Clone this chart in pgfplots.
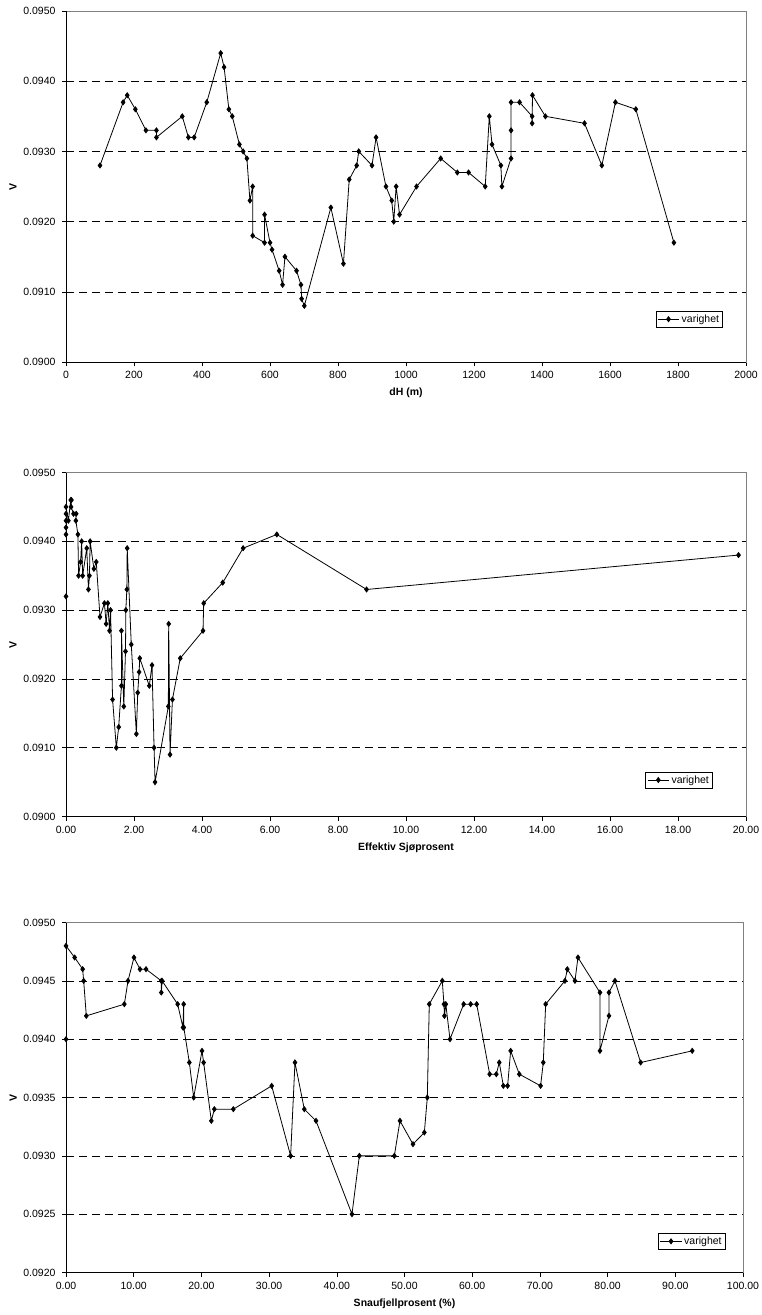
\documentclass[border=0pt]{standalone}
\usepackage{fontspec}
\setmainfont{Liberation Sans}
\usepackage{pgfplots}
\pgfplotsset{compat=1.18}
\pgfplotsset{
  excel/.style={
    scale only axis,
    anchor=south west,
    xmin=0,
    scaled y ticks=false, scaled x ticks=false,
    tick align=outside,
    xtick pos=left, ytick pos=left,
    major tick length=4pt,
    tick style={black, line width=0.6pt},
    axis line style={draw=gray, line width=0.8pt},
    ymajorgrids,
    major grid style={black, dash pattern=on 8pt off 5pt, line width=0.6pt},
    font=\fontsize{10.5}{12}\selectfont,
    ticklabel style={font=\fontsize{10.5}{12}\selectfont},
    /pgf/number format/assume math mode=true,
    yticklabel style={/pgf/number format/fixed, /pgf/number format/fixed zerofill,
      /pgf/number format/precision=4, /pgf/number format/1000 sep={}, xshift=-3pt},
    xticklabel style={yshift=-2pt},
    label style={font=\bfseries\fontsize{10.5}{12}\selectfont},
    ylabel style={at={(axis description cs:-0.078,0.5)}, anchor=center},
    xlabel style={at={(axis description cs:0.5,0)}, anchor=center, yshift=-31pt},
    legend cell align=left,
    legend image code/.code={
      \draw[mark repeat=2,mark phase=2] plot coordinates {(0cm,0cm) (0.38cm,0cm) (0.76cm,0cm)};},
    legend style={draw=black, line width=0.6pt, font=\fontsize{10.5}{12}\selectfont,
      inner sep=1.5pt, anchor=east},
    after end axis/.code={
      \draw[black, line width=0.8pt] (rel axis cs:0,1) -- (rel axis cs:0,0) -- (rel axis cs:1,0);
    },
  },
  ser/.style={black, line width=0.8pt, mark=diamond*, mark size=2.5pt, mark options={solid}},
}
\begin{document}
\begin{tikzpicture}
\useasboundingbox (0,0) rectangle (762pt,-1315pt);
% ---------- Plot 1 ----------
\begin{axis}[excel,
  at={(66pt,-362pt)}, width=680pt, height=351pt,
  xmax=2000, xtick={0,200,...,2000},
  xticklabel style={/pgf/number format/fixed, /pgf/number format/precision=0, /pgf/number format/1000 sep={}},
  ymin=0.0900, ymax=0.0950,
  ytick={0.0900,0.0910,0.0920,0.0930,0.0940,0.0950},
  xlabel={dH (m)}, ylabel={V},
  legend style={at={(axis description cs:0.966,0.122)}},
]
\addplot[ser] coordinates {
(100,0.0928) (168,0.0937) (180,0.0938) (204,0.0936) (235,0.0933) (266,0.0933) (266,0.0932)
(342,0.0935) (360,0.0932) (377,0.0932) (414,0.0937) (455,0.0944) (465,0.0942) (479,0.0936)
(489,0.0935) (510,0.0931) (521,0.0930) (532,0.0929) (541,0.0923) (549,0.0925) (549,0.0918)
(584,0.0917) (584,0.0921) (600,0.0917) (606,0.0916) (627,0.0913) (637,0.0911) (644,0.0915)
(678,0.0913) (691,0.0911) (693,0.0909) (701,0.0908) (779,0.0922) (816,0.0914) (833,0.0926)
(855,0.0928) (861,0.0930) (900,0.0928) (912,0.0932) (941,0.0925) (958,0.0923) (964,0.0920)
(971,0.0925) (981,0.0921) (1031,0.0925) (1102,0.0929) (1151,0.0927) (1184,0.0927)
(1233,0.0925) (1245,0.0935) (1253,0.0931) (1279,0.0928) (1282,0.0925) (1309,0.0929)
(1309,0.0933) (1309,0.0937) (1334,0.0937) (1371,0.0935) (1371,0.0934) (1372,0.0938)
(1410,0.0935) (1525,0.0934) (1576,0.0928) (1616,0.0937) (1676,0.0936) (1788,0.0917)
};
\addlegendentry{varighet}
\end{axis}
% ---------- Plot 2 ----------
\begin{axis}[excel,
  at={(66pt,-816.5pt)}, width=680pt, height=344pt,
  xmax=20, xtick={0,2,...,20},
  xticklabel style={/pgf/number format/fixed, /pgf/number format/fixed zerofill, /pgf/number format/precision=2},
  ymin=0.0900, ymax=0.0950,
  ytick={0.0900,0.0910,0.0920,0.0930,0.0940,0.0950},
  xlabel={Effektiv Sjøprosent}, ylabel={V},
  legend style={at={(axis description cs:0.951,0.106)}},
]
\addplot[ser] coordinates {
(0,0.0932) (0,0.0941) (0,0.0942) (0,0.0943) (0,0.0944) (0,0.0945) (0.07,0.0943)
(0.14,0.0946) (0.16,0.0946) (0.15,0.0945) (0.22,0.0944) (0.30,0.0944) (0.29,0.0943)
(0.35,0.0941) (0.37,0.0935) (0.43,0.0937) (0.46,0.0940) (0.49,0.0935) (0.61,0.0939)
(0.66,0.0933) (0.69,0.0935) (0.71,0.0940) (0.82,0.0936) (0.89,0.0937) (1.00,0.0929)
(1.13,0.0931) (1.18,0.0928) (1.23,0.0931) (1.28,0.0927) (1.31,0.0930) (1.37,0.0917)
(1.48,0.0910) (1.55,0.0913) (1.63,0.0919) (1.63,0.0927) (1.70,0.0916) (1.75,0.0924)
(1.76,0.0930) (1.79,0.0933) (1.80,0.0939) (1.92,0.0925) (2.07,0.0912) (2.11,0.0918)
(2.15,0.0921) (2.17,0.0923) (2.45,0.0919) (2.53,0.0922) (2.59,0.0910) (2.62,0.0905)
(3.01,0.0916) (3.02,0.0928) (3.06,0.0909) (3.13,0.0917) (3.36,0.0923) (4.03,0.0927)
(4.05,0.0931) (4.61,0.0934) (5.21,0.0939) (6.20,0.0941) (8.84,0.0933) (19.78,0.0938)
};
\addlegendentry{varighet}
\end{axis}
% ---------- Plot 3 ----------
\begin{axis}[excel,
  at={(66pt,-1272.5pt)}, width=677pt, height=350pt,
  xmax=100, xtick={0,10,...,100},
  xticklabel style={/pgf/number format/fixed, /pgf/number format/fixed zerofill, /pgf/number format/precision=2},
  ymin=0.0920, ymax=0.0950,
  ytick={0.0920,0.0925,0.0930,0.0935,0.0940,0.0945,0.0950},
  xlabel={Snaufjellprosent (\%)}, ylabel={V},
  legend style={at={(axis description cs:0.974,0.089)}},
]
\addplot[ser] coordinates {
(0,0.0940) (0,0.0948) (1.28,0.0947) (2.46,0.0946) (2.61,0.0945) (3.00,0.0942) (8.62,0.0943)
(9.16,0.0945) (10.04,0.0947) (10.93,0.0946) (11.82,0.0946) (14.08,0.0945) (14.08,0.0944)
(14.2,0.0945) (16.49,0.0943) (17.28,0.0941) (17.38,0.0943) (17.4,0.0941) (18.22,0.0938)
(18.86,0.0935) (20.09,0.0939) (20.33,0.0938) (21.47,0.0933) (21.91,0.0934) (24.72,0.0934)
(30.38,0.0936) (33.18,0.0930) (33.82,0.0938) (35.20,0.0934) (36.93,0.0933) (42.24,0.0925)
(43.33,0.0930) (48.50,0.0930) (49.33,0.0933) (51.25,0.0931) (52.93,0.0932) (53.37,0.0935)
(53.66,0.0943) (55.58,0.0945) (55.83,0.0943) (55.9,0.0942) (56.1,0.0943) (56.72,0.0940)
(58.74,0.0943) (59.77,0.0943) (60.66,0.0943) (62.58,0.0937) (63.56,0.0937) (64.00,0.0938)
(64.60,0.0936) (65.23,0.0936) (65.68,0.0939) (66.96,0.0937) (70.10,0.0936) (70.50,0.0938)
(70.85,0.0943) (73.70,0.0945) (74.05,0.0946) (75.18,0.0945) (75.62,0.0947) (78.87,0.0944)
(78.87,0.0939) (80.20,0.0942) (80.20,0.0944) (81.09,0.0945) (84.88,0.0938) (92.50,0.0939)
};
\addlegendentry{varighet}
\end{axis}
\end{tikzpicture}
\end{document}
